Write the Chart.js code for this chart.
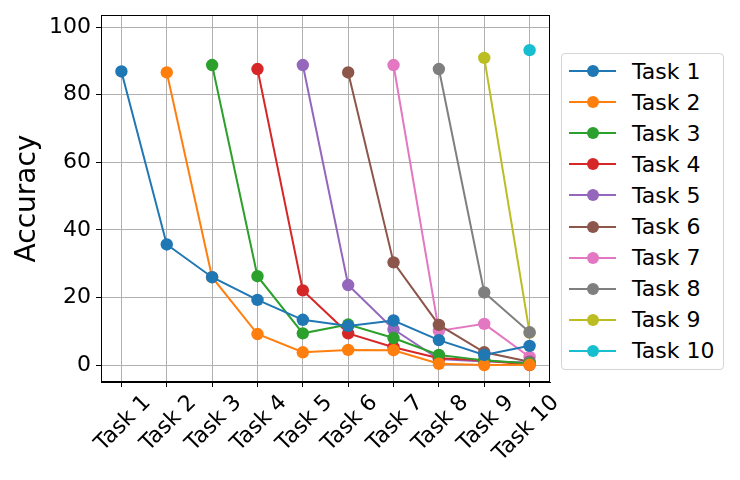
<!DOCTYPE html>
<html>
<head>
<meta charset="utf-8">
<script src="https://cdn.jsdelivr.net/npm/chart.js@4/dist/chart.umd.min.js"></script>
<style>
  html, body { margin: 0; padding: 0; background: #fff; }
  #wrap { position: relative; width: 740px; height: 480px; font-family: "DejaVu Sans", sans-serif; }
  #legend { position: absolute; left: 561px; top: 53px; width: 163px; height: 317px;
            border: 1px solid #d4d4d4; border-radius: 4px; box-sizing: border-box; background: #fff; }
  .row { position: absolute; left: 0; height: 31px; width: 100%; }
  .sym { position: absolute; left: 7px; top: 14.5px; width: 47px; height: 2px; }
  .dot { position: absolute; left: 25px; top: 9.5px; width: 12px; height: 12px; border-radius: 50%; }
  .lbl { position: absolute; left: 70px; top: 0; line-height: 31px; font-size: 22px; color: #000; white-space: nowrap; }
</style>
</head>
<body>
<div id="wrap">
  <canvas id="c" width="740" height="480"></canvas>
  <div id="legend"></div>
</div>
<script>
const categories = ["Task 1","Task 2","Task 3","Task 4","Task 5","Task 6","Task 7","Task 8","Task 9","Task 10"];
const seriesNames = ["Task 1","Task 2","Task 3","Task 4","Task 5","Task 6","Task 7","Task 8","Task 9","Task 10"];
const colors = ["#1f77b4","#ff7f0e","#2ca02c","#d62728","#9467bd","#8c564b","#e377c2","#7f7f7f","#bcbd22","#17becf"];
const yTicks = [0, 20, 40, 60, 80, 100];

const task1  = [86.9, 35.7, 26.0, 19.3, 13.4, 11.6, 13.2, 7.4, 3.0, 5.7];
const task2  = [null, 86.6, 26.0, 9.2, 3.8, 4.5, 4.4, 0.4, 0.0, 0.1];
const task3  = [null, null, 88.8, 26.3, 9.4, 12.0, 8.0, 3.0, 1.4, 0.5];
const task4  = [null, null, null, 87.6, 22.1, 9.4, 5.3, 2.0, 1.4, 0.0];
const task5  = [null, null, null, null, 88.8, 23.7, 10.6, 1.8, 1.1, 0.8];
const task6  = [null, null, null, null, null, 86.6, 30.4, 11.9, 3.8, 1.0];
const task7  = [null, null, null, null, null, null, 88.8, 10.1, 12.2, 2.4];
const task8  = [null, null, null, null, null, null, null, 87.6, 21.5, 9.7];
const task9  = [null, null, null, null, null, null, null, null, 90.9, 9.6];
const task10 = [null, null, null, null, null, null, null, null, null, 93.2];

const allSeries = [task1, task2, task3, task4, task5, task6, task7, task8, task9, task10];

const datasets = allSeries.map((arr, i) => ({
  label: seriesNames[i],
  data: arr.map((v, j) => v === null ? null : { x: j, y: v }).filter(p => p !== null),
  borderColor: colors[i],
  backgroundColor: colors[i],
  pointBackgroundColor: colors[i],
  pointBorderWidth: 0,
  pointRadius: 6.2,
  pointHoverRadius: 6.2,
  borderWidth: 2,
  fill: false,
  tension: 0
}));

const legendEl = document.getElementById('legend');
seriesNames.forEach((name, i) => {
  const row = document.createElement('div');
  row.className = 'row';
  row.style.top = (1.5 + i * 31.1) + 'px';
  row.innerHTML = '<div class="sym" style="background:' + colors[i] + '"></div>' +
                  '<div class="dot" style="background:' + colors[i] + '"></div>' +
                  '<div class="lbl">' + name + '</div>';
  legendEl.appendChild(row);
});

const framePlugin = {
  id: 'frame',
  afterDraw(chart) {
    const ctx = chart.ctx;
    const a = chart.chartArea;
    const l = Math.round(a.left) + 0.5, t = Math.round(a.top) + 0.5;
    const r = Math.round(a.right) - 0.5, b = Math.round(a.bottom) - 0.5;
    ctx.save();
    ctx.strokeStyle = '#000000';
    ctx.lineWidth = 1;
    ctx.strokeRect(l, t, r - l, b - t);
    ctx.restore();
  }
};

Chart.defaults.font.family = '"DejaVu Sans", sans-serif';
Chart.defaults.color = '#000';

new Chart(document.getElementById('c'), {
  type: 'line',
  data: { datasets },
  options: {
    responsive: false,
    animation: false,
    events: [],
    layout: { padding: { top: 15, right: 190, left: 0, bottom: 0 } },
    plugins: { legend: { display: false }, tooltip: { enabled: false } },
    scales: {
      x: {
        type: 'linear',
        min: -0.45,
        max: 9.45,
        afterBuildTicks(scale) { scale.ticks = categories.map((c, i) => ({ value: i })); },
        afterFit(scale) { scale.height = 98; },
        ticks: {
          autoSkip: false,
          minRotation: 45,
          maxRotation: 45,
          padding: 3,
          labelOffset: 26,
          font: { size: 22 },
          color: '#000',
          callback: (v) => categories[v]
        },
        grid: { color: '#b0b0b0', lineWidth: 1, tickColor: '#000', tickLength: 5, drawTicks: true },
        border: { color: '#000', width: 1 }
      },
      y: {
        type: 'linear',
        min: -5.0,
        max: 103.6,
        afterBuildTicks(scale) { scale.ticks = yTicks.map(v => ({ value: v })); },
        afterFit(scale) { scale.width = 101; scale.paddingTop = 0; scale.paddingBottom = 0; },
        ticks: { padding: 5, font: { size: 22 }, color: '#000' },
        grid: { color: '#b0b0b0', lineWidth: 1, tickColor: '#000', tickLength: 5, drawTicks: true },
        border: { color: '#000', width: 1 },
        title: {
          display: true,
          text: 'Accuracy',
          font: { size: 28, lineHeight: 1 },
          color: '#000',
          padding: { top: 14, bottom: 0 }
        }
      }
    }
  },
  plugins: [framePlugin]
});
</script>
</body>
</html>
